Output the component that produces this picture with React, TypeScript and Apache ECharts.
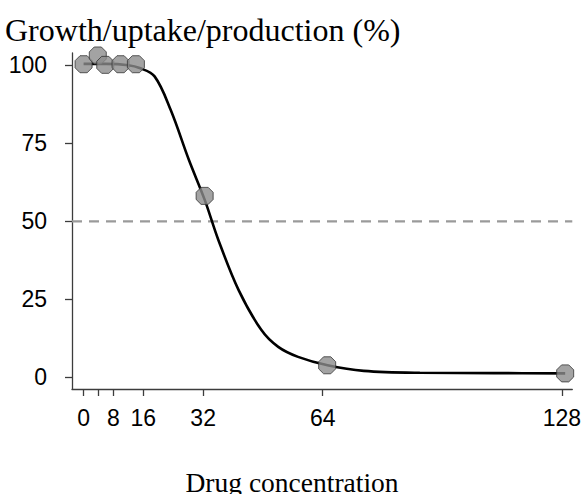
import React, { useEffect, useRef } from "react";
import * as echarts from "echarts";

// Axis ticks / labels
const xTickValues = [0, 4, 8, 16, 32, 64, 128];
const xLabelValues = [0, 8, 16, 32, 64, 128];
const yTickValues = [0, 25, 50, 75, 100];

// Observed points
const pointX = [0, 3.8, 5.8, 9.9, 14, 32.4, 65.2, 128.9];
const pointY = [100.4, 103.2, 100.2, 100.4, 100.4, 58.2, 3.9, 1.3];

// Fitted curve
const curveX = [0, 6, 12, 15, 19, 23.3, 28.2, 32.4, 36.1, 41.5, 47.6, 52.1, 57.4, 65.3, 75, 90, 110, 128.9];
const curveY = [100.5, 100.5, 100.1, 99.2, 96.5, 85.8, 69.7, 57.0, 44.0, 28.0, 15.2, 9.8, 6.6, 3.9, 2.1, 1.5, 1.4, 1.3];

// Reference level
const halfLevel = 50;
const xRange = [-3.1, 130.8];
const yRange = [-3.7, 104];

const titleText = "Growth/uptake/production (%)";
const xName = "Drug concentration";

const octagon = "path://M29 0 L71 0 L100 29 L100 71 L71 100 L29 100 L0 71 L0 29 Z";

export default function App() {
  const ref = useRef<HTMLDivElement>(null);
  useEffect(() => {
    const chart = echarts.init(ref.current!, null, { renderer: "svg" });
    const axisColor = "#3c3c3c";
    const sans = "Liberation Sans, Arial, sans-serif";
    chart.setOption({
      animation: false,
      backgroundColor: "#fff",
      grid: { left: 72, right: 7, top: 53, bottom: 105 },
      graphic: [
        {
          type: "text",
          x: 5,
          y: 30,
          style: {
            text: titleText,
            font: "32px 'Liberation Serif'",
            fill: "#000",
            align: "left",
            verticalAlign: "middle",
          },
        },
        {
          type: "text",
          x: 292,
          y: 482,
          style: {
            text: xName,
            font: "27.5px 'Liberation Serif'",
            fill: "#000",
            align: "center",
            verticalAlign: "middle",
          },
        },
      ],
      xAxis: {
        type: "value",
        min: xRange[0],
        max: xRange[1],
        splitLine: { show: false },
        axisLine: { show: true, onZero: false, lineStyle: { color: axisColor, width: 1.3 } },
        axisTick: { show: true, length: 7, customValues: xTickValues, lineStyle: { color: axisColor, width: 1.3 } },
        axisLabel: {
          customValues: xLabelValues,
          margin: 17,
          fontFamily: sans,
          fontSize: 23,
          color: "#000",
        },
      },
      yAxis: {
        type: "value",
        min: yRange[0],
        max: yRange[1],
        splitLine: { show: false },
        axisLine: { show: true, onZero: false, lineStyle: { color: axisColor, width: 1.3 } },
        axisTick: { show: true, length: 7, customValues: yTickValues, lineStyle: { color: axisColor, width: 1.3 } },
        axisLabel: {
          customValues: yTickValues,
          margin: 25,
          fontFamily: sans,
          fontSize: 23,
          color: "#000",
        },
      },
      series: [
        {
          type: "line",
          data: [[xRange[0], halfLevel], [xRange[1], halfLevel]],
          symbol: "none",
          lineStyle: { color: "#9a9a9a", width: 2.2, type: [10, 7] },
          silent: true,
          z: 1,
        },
        {
          type: "line",
          data: curveX.map((x, i) => [x, curveY[i]]),
          symbol: "none",
          smooth: 0.35,
          lineStyle: { color: "#000", width: 2.6 },
          z: 2,
        },
        {
          type: "scatter",
          data: pointX.map((x, i) => [x, pointY[i]]),
          symbol: octagon,
          symbolSize: 17,
          itemStyle: { color: "#8c8c8c", borderColor: "#333", borderWidth: 1 },
          z: 3,
        },
      ],
    });
    return () => chart.dispose();
  }, []);
  return <div ref={ref} style={{ position: "fixed", left: 0, top: 0, width: 584, height: 494 }} />;
}
